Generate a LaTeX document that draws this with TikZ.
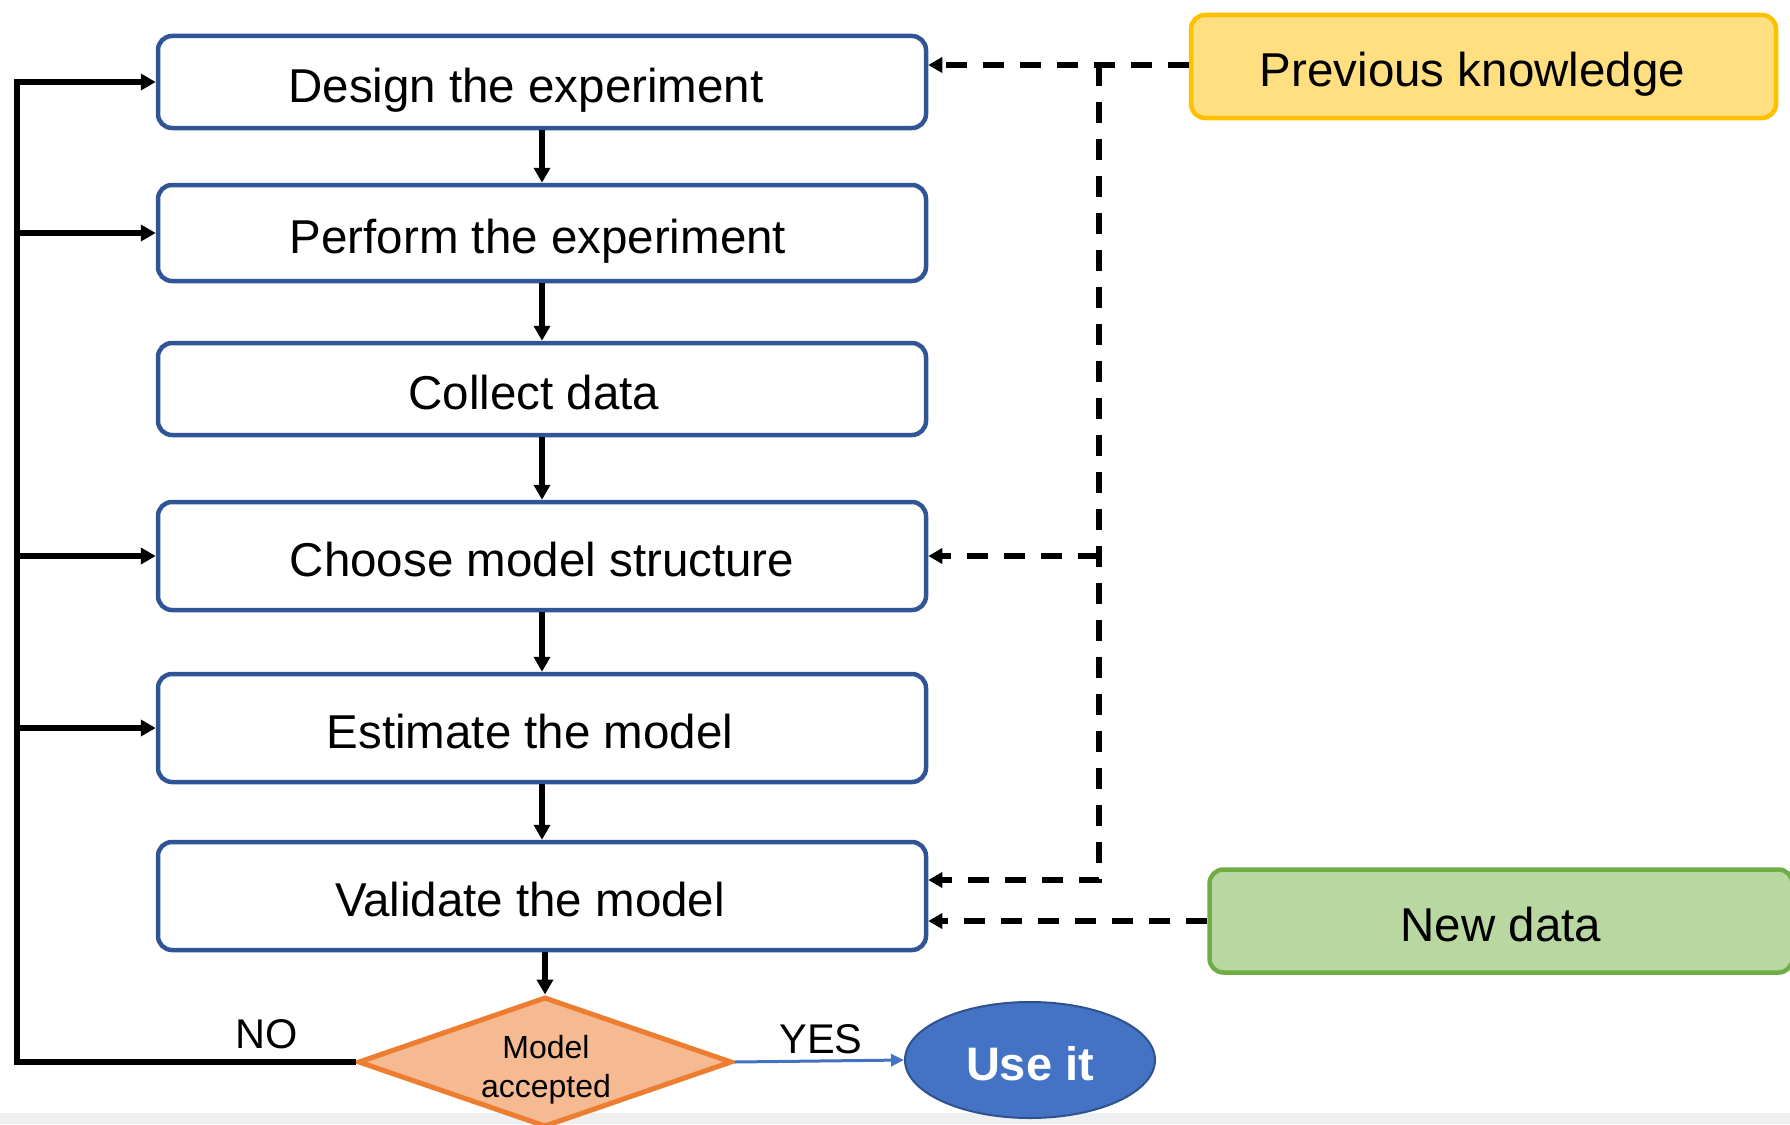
\documentclass[tikz,border=0pt]{standalone}
\usepackage{fontspec}
\setmainfont{Liberation Sans}
\usetikzlibrary{arrows.meta,shapes.geometric}

\definecolor{boxblue}{HTML}{2F5597}
\definecolor{pkfill}{HTML}{FFDF80}
\definecolor{pkdraw}{HTML}{FFC000}
\definecolor{ndfill}{HTML}{B9D7A1}
\definecolor{nddraw}{HTML}{70AD47}
\definecolor{dfill}{HTML}{F5BA92}
\definecolor{ddraw}{HTML}{ED7D31}
\definecolor{usefill}{HTML}{4472C4}
\definecolor{usedraw}{HTML}{2F528F}
\definecolor{stripgrey}{HTML}{EEEFF1}

% shift a centred label sideways by #1 (half of the given space)
\newcommand{\nudge}[2]{\hspace*{#1}#2}

\begin{document}
\begin{tikzpicture}[x=1pt,y=-1pt,
  bigtext/.style={font=\fontsize{47.5}{57}\selectfont, text height=45pt, text depth=5pt},
  stepbox/.style={bigtext, draw=boxblue, line width=4.5pt, rounded corners=14pt,
    fill=white, minimum width=768pt, inner sep=0pt},
  sidebox/.style={bigtext, line width=4.5pt, rounded corners=14pt, inner sep=0pt,
    minimum height=103pt},
  flow/.style={line width=5.5pt, -{Triangle[length=15pt,width=16pt]}},
  feed/.style={line width=5.5pt, dash pattern=on 21pt off 16pt,
    -{Triangle[length=14pt,width=15pt]}},
  yesline/.style={usefill, line width=3pt, -{Triangle[length=13pt,width=12pt]}},
  answer/.style={font=\fontsize{41.5}{50}\selectfont, anchor=base, inner sep=0pt},
  smalltext/.style={font=\fontsize{32}{39}\selectfont, anchor=base, inner sep=0pt}
]
\useasboundingbox (0,0) rectangle (1790,1124);
\fill[stripgrey] (0,1113) rectangle (1790,1124);

% main chain of steps
\node[stepbox, minimum height=92pt]  (d1) at (542,82)  {\nudge{-32pt}{Design the experiment}};
\node[stepbox, minimum height=96pt]  (d2) at (542,233) {\nudge{-8pt}{Perform the experiment}};
\node[stepbox, minimum height=92pt]  (d3) at (542,389) {\nudge{-16pt}{Collect data}};
\node[stepbox, minimum height=108pt] (d4) at (542,556) {Choose model structure};
\node[stepbox, minimum height=108pt] (d5) at (542,728) {\nudge{-24pt}{Estimate the model}};
\node[stepbox, minimum height=108pt] (d6) at (542,896) {\nudge{-24pt}{Validate the model}};

% decision and outcome
\node[diamond, draw=ddraw, fill=dfill, line width=5pt, inner sep=0pt,
      minimum width=374pt, minimum height=130pt] (dia) at (545,1062) {};
\node[smalltext] (dt1) at (546,1058) {Model};
\node[smalltext] (dt2) at (546,1097) {accepted};
\node[ellipse, draw=usedraw, fill=usefill, line width=2pt, inner sep=0pt,
      minimum width=250pt, minimum height=116pt, text=white,
      font=\bfseries\fontsize{47}{56}\selectfont, text height=45pt, text depth=5pt]
      (use) at (1030,1060) {Use it};

% inputs on the right
\node[sidebox, draw=pkdraw, fill=pkfill, minimum width=585pt] (pk) at (1483.5,66.5) {\nudge{-22pt}{Previous knowledge}};
\node[sidebox, draw=nddraw, fill=ndfill, minimum width=583pt] (nd) at (1501,921) {New data};

% labels of the decision branches
\node[answer] (nolab)  at (267,1048) {NO};
\node[answer] (yeslab) at (821,1053) {YES};

% downward flow
\draw[flow] (d1.south) -- (d2.north);
\draw[flow] (d2.south) -- (d3.north);
\draw[flow] (d3.south) -- (d4.north);
\draw[flow] (d4.south) -- (d5.north);
\draw[flow] (d5.south) -- (d6.north);
\draw[flow] (dia.north |- d6.south) -- (dia.north);

% feedback when the model is rejected
\coordinate (fb) at (17,82);
\draw[flow] (dia.west) -| (fb) -- (d1.west);
\draw[flow] (fb |- d2.west) -- (d2.west);
\draw[flow] (fb |- d4.west) -- (d4.west);
\draw[flow] (fb |- d5.west) -- (d5.west);

% accepted model
\draw[yesline] (dia.east) -- (use.west);

% knowledge and data inputs
\coordinate (j1) at (1099,65);
\coordinate (j2) at (1099,556);
\coordinate (j3) at (1099,880);
\draw[feed] (pk.west |- j1) -- (d1.east |- j1);
\draw[feed] (j1) -- (j3) -- (d6.east |- j3);
\draw[feed] (j2) -- (d4.east |- j2);
\draw[feed] (nd.west) -- (d6.east |- nd.west);
\end{tikzpicture}
\end{document}
